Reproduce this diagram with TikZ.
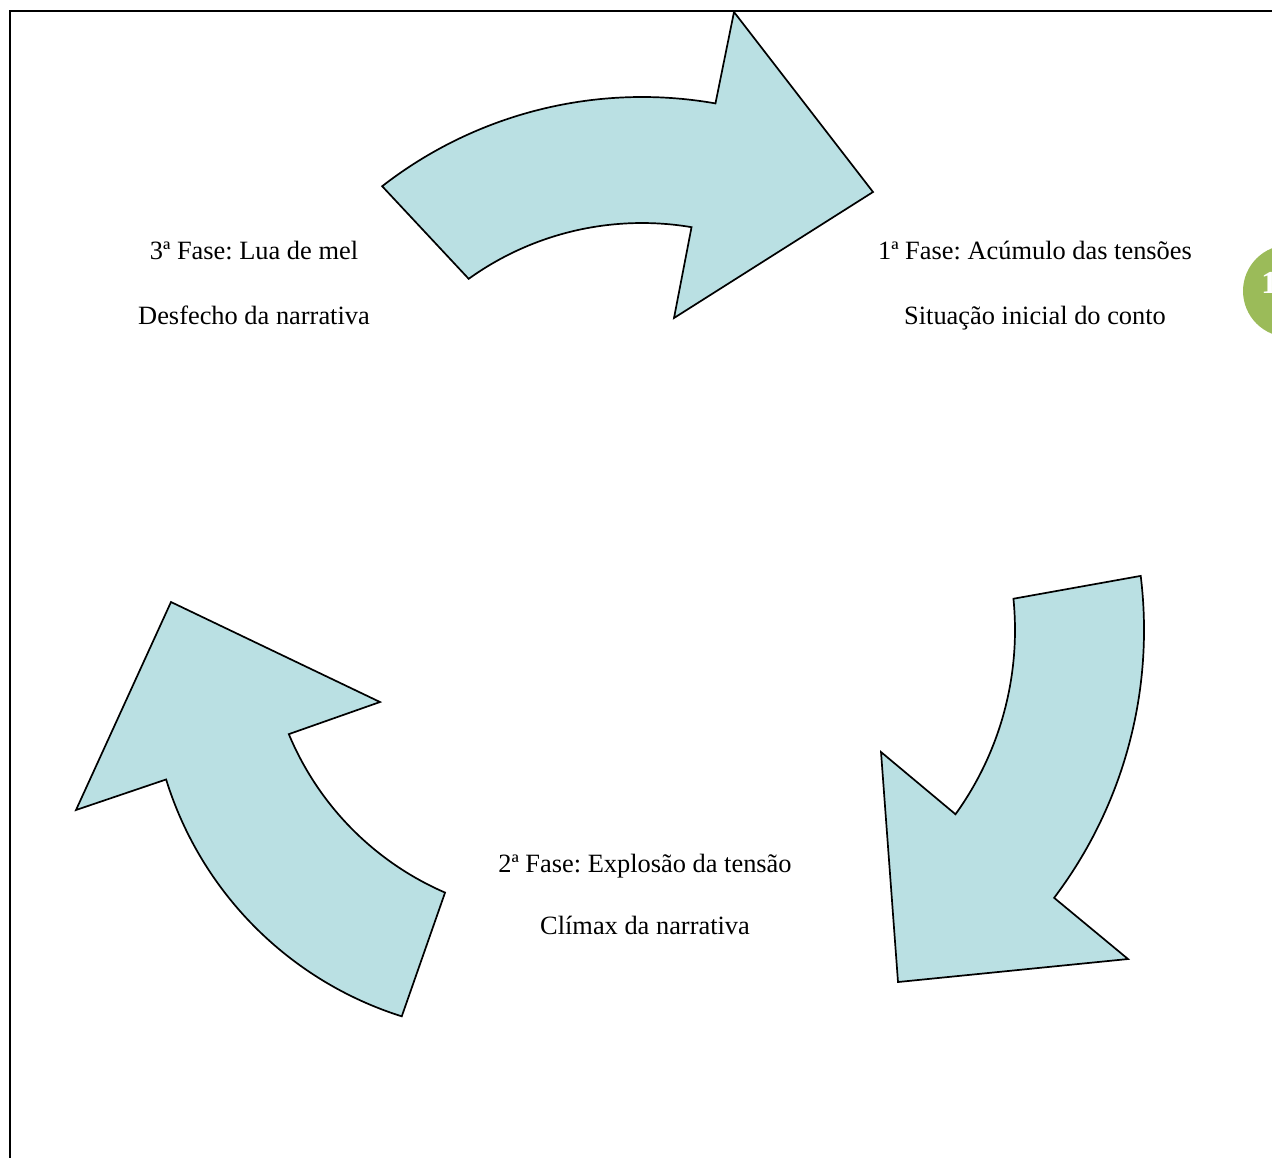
\documentclass[tikz,border=0pt]{standalone}
\usepackage{fontspec}
\setmainfont{Liberation Serif}
\usetikzlibrary{calc}
\frenchspacing
\definecolor{aqualight}{RGB}{186, 224, 227}
\definecolor{olivegreen}{RGB}{155, 187, 89}

\tikzset{
  arrowfill/.style={draw=black, fill=aqualight, line width=0.85pt, line join=miter},
  fasetxt/.style={anchor=base, inner sep=0pt, font=\fontsize{13.2}{16}\selectfont}
}

\begin{document}
\begin{tikzpicture}[x=0.5pt, y=-0.5pt]
            \useasboundingbox                                             (0,0) rectangle (1272,1157);
            \clip                                                         (0,0) rectangle (1272,1157);
            \draw[line width=1pt]                                         (9.5,1165) -- (9.5,11) -- (1280,11);
            \coordinate (ctop)     at (642,520);
            \coordinate (cright)   at (700,630);
            \coordinate (cleftout) at (510,673);
            \coordinate (cleftin)  at (563,620);
            % top arrow
            \filldraw[arrowfill] ($(ctop)+(127.9:211.5pt)$) arc[start angle=127.9, end angle=80.0, radius=211.5pt]
                 -- (734,12) -- (873,192) -- (674,318)
                 -- ($(ctop)+(80.4:148.5pt)$) arc[start angle=80.4, end angle=125.7, radius=148.5pt] -- cycle;
            % right arrow
            \filldraw[arrowfill] ($(cright)+(7.0:222pt)$) arc[start angle=7.0, end angle=-37.1, radius=222pt]
                 -- (1128,959) -- (898,982) -- (881,752)
                 -- ($(cright)+(-35.8:157.5pt)$) arc[start angle=-35.8, end angle=5.7, radius=157.5pt] -- cycle;
            % left arrow
            \filldraw[arrowfill] ($(cleftout)+(252.5:180pt)$) arc[start angle=252.5, end angle=197.2, radius=180pt]
                 -- (76,810) -- (171,602) -- (380,702)
                 -- ($(cleftin)+(202.6:148.5pt)$) arc[start angle=202.6, end angle=246.6, radius=148.5pt] -- cycle;
            \node[fasetxt] (fase3) at (254,259)  {3ª Fase: Lua de mel};
            \node[fasetxt] (desf3) at (254,324)  {Desfecho da narrativa};
            \node[fasetxt] (fase1) at (1035,259) {1ª Fase: Acúmulo das tensões};
            \node[fasetxt] (desf1) at (1035,324) {Situação inicial do conto};
            \node[fasetxt] (fase2) at (645,872)  {2ª Fase: Explosão da tensão};
            \node[fasetxt] (desf2) at (645,934)  {Clímax da narrativa};
            \fill[olivegreen]                                             (1289,291) circle (23pt);
            \node[anchor=base west, inner sep=0pt, text=white,
                  font=\fontsize{16}{16}\selectfont\bfseries] (num) at (1261,293) {1};
        \end{tikzpicture}
\end{document}
